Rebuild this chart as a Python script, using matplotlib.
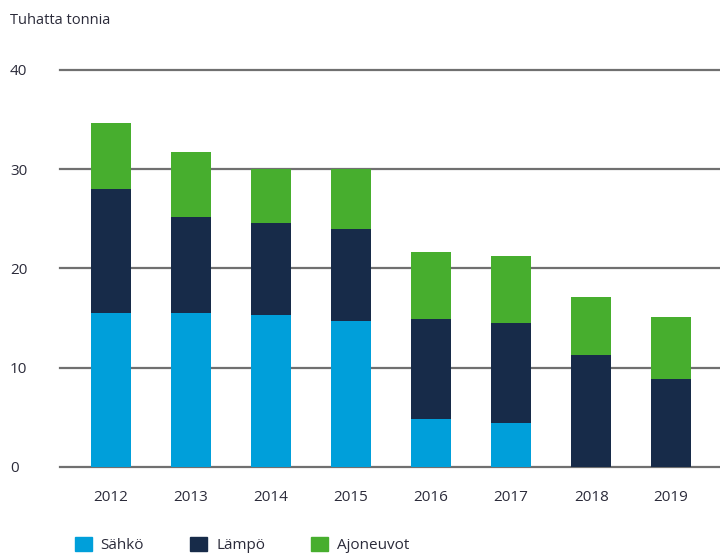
import matplotlib.pyplot as plt
from matplotlib.patches import Patch
import numpy as np

years = ["2012", "2013", "2014", "2015", "2016", "2017", "2018", "2019"]
sahko = [15.5, 15.5, 15.3, 14.7, 4.8, 4.4, 0, 0]
lampo = [12.5, 9.7, 9.3, 9.3, 10.1, 10.1, 11.3, 8.8]
ajoneuvot = [6.7, 6.5, 5.4, 6.0, 6.7, 6.7, 5.8, 6.3]
yticks = [0, 10, 20, 30, 40]

c_sahko = "#009fda"
c_lampo = "#172b49"
c_ajo = "#47ae2e"
txt = "#2b2b3a"

plt.rcParams['font.family'] = ['Open Sans', 'DejaVu Sans']

fig = plt.figure(figsize=(7.2, 5.53), dpi=100)
ax = fig.add_axes([60/720, (553-466.7)/553, 660/720, (466.7-70)/553])

x = np.arange(len(years))
s = np.array(sahko)
l = np.array(lampo)
a = np.array(ajoneuvot)
ax.bar(x, s, 0.5, color=c_sahko, zorder=3)
ax.bar(x, l, 0.5, bottom=s, color=c_lampo, zorder=3)
ax.bar(x, a, 0.5, bottom=s + l, color=c_ajo, zorder=3)

ax.set_xlim(-0.6375, 7.61)
ax.set_ylim(0, 40)
ax.set_yticks(yticks)
ax.set_xticks(x)
ax.set_xticklabels(years)
for v in yticks:
    ax.axhline(v, color="#707070", lw=1.6, zorder=1, clip_on=False)
for sp in ax.spines.values():
    sp.set_visible(False)
# labels left-aligned at about 10 px from the figure edge
ax.tick_params(axis="y", length=0, pad=36, labelsize=11, labelcolor=txt)
ax.tick_params(axis="x", length=0, pad=17, labelsize=11, labelcolor=txt)
for t in ax.get_yticklabels():
    t.set_horizontalalignment("left")

fig.text(10/720, 1 - 20/553, "Tuhatta tonnia", fontsize=10.5, color=txt, va="center", ha="left")

handles = [Patch(color=c_sahko, label="Sähkö"),
           Patch(color=c_lampo, label="Lämpö"),
           Patch(color=c_ajo, label="Ajoneuvot")]
leg = fig.legend(handles=handles, loc="center left", bbox_to_anchor=(61/720, 1 - 545/553),
                 ncol=3, frameon=False, handlelength=1.1, handleheight=1.1,
                 handletextpad=0.6, columnspacing=3.0, fontsize=11)
for t in leg.get_texts():
    t.set_color(txt)

fig.savefig("out.png", dpi=100)
